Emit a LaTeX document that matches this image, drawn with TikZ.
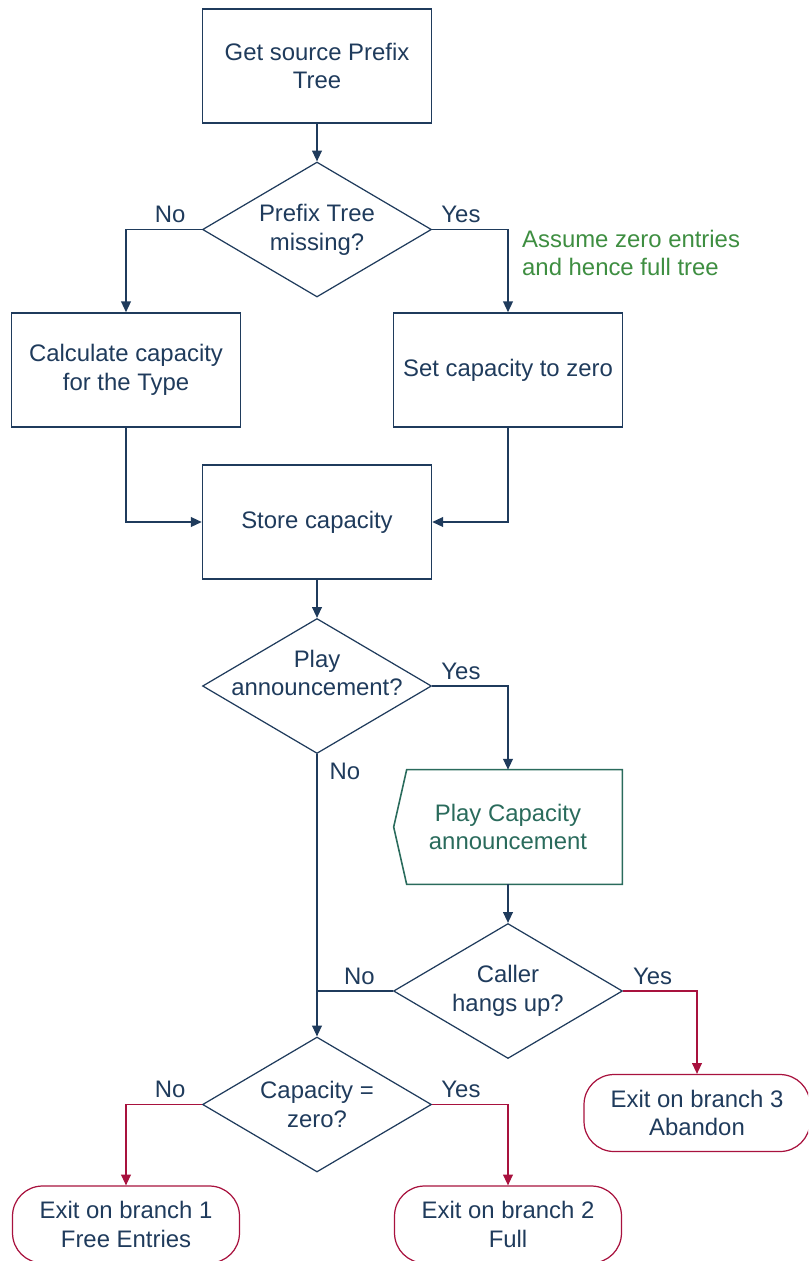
\documentclass[tikz,border=0pt]{standalone}
\usepackage{fontspec}
\setmainfont{Liberation Sans}
\usepackage{xcolor}
\usepackage{tikz}
\usetikzlibrary{shapes.geometric}
\usetikzlibrary{arrows.meta}
\definecolor{blu}{HTML}{1F3B5C}
\definecolor{rosso}{HTML}{A8123E}
\definecolor{verde}{HTML}{3E8E41}
\definecolor{petrolio}{HTML}{2A6B5C}

\begin{document}
\begin{tikzpicture}[x=0.02cm,y=-0.02cm,
        font=\fontsize{13.6}{16.4}\selectfont,
        every node/.style={text=blu,align=center},
        blocco/.style={draw=blu,line width=0.9pt,minimum width=4.58cm,minimum height=2.28cm,inner sep=0pt},
        rombo/.style={draw=blu,shape=diamond,line width=0.7pt,minimum width=4.58cm,minimum height=2.7cm,inner sep=0pt},
        uscita/.style={draw=rosso,rounded corners=0.6cm,line width=0.7pt,minimum width=4.54cm,minimum height=1.54cm},
        freccia/.style={draw=blu,line width=0.8pt,-{Triangle[length=6.2pt,width=5.6pt]}},
        frecciarossa/.style={freccia,draw=rosso}]

                % Area del disegno
            \useasboundingbox (0,0) rectangle (808,1261);
            \clip (0,0) rectangle (808,1261);

                % Blocchi
            \node[blocco] (sorgente) at (317,66) {Get source Prefix\\Tree};
            \node[rombo,label={center:{Prefix Tree\\missing?}}] (rombo1) at (317,229.5) {};
            \node[blocco] (calcola) at (126,370) {Calculate capacity\\for the Type};
            \node[blocco] (azzera) at (508,370) {Set capacity to zero};
            \node[text=verde,anchor=west,align=left] (nota) at (516,253) {Assume zero entries\\and hence full tree}; % Nota
            \node[blocco] (memorizza) at (317,522) {Store capacity};
            \node[rombo,label={[yshift=0.26cm]center:{Play\\announcement?}}] (rombo2) at (317,686) {};

                % Annuncio
            \node[text=petrolio,minimum width=4.56cm,minimum height=2.28cm,inner sep=0pt] (annuncio) at (508,827) {Play Capacity\\announcement};
            \draw[petrolio,line width=0.9pt] ([xshift=0.26cm]annuncio.north west) -- (annuncio.north east)
                    -- (annuncio.south east) -- ([xshift=0.26cm]annuncio.south west) -- (annuncio.west) -- cycle;

            \node[rombo,label={center:{Caller\\hangs up?}}] (rombo3) at (508,991) {};
            \node[rombo,label={center:{Capacity =\\zero?}}] (rombo4) at (317,1104.5) {};

                % Uscite
            \node[uscita] (uscita1) at (126,1224.5) {Exit on branch 1\\Free Entries};
            \node[uscita] (uscita2) at (508,1224.5) {Exit on branch 2\\Full};
            \node[uscita,minimum width=4.52cm] (uscita3) at (697,1113) {Exit on branch 3\\Abandon};

                % Collegamenti
            \draw[freccia] (sorgente) -- (rombo1);
            \draw[freccia] (rombo1.west) -| node[pos=0.21,above] (no1) {No} (calcola.north);
            \draw[freccia] (rombo1.east) -| node[pos=0.19,above] (si1) {Yes} (azzera.north);
            \draw[freccia] (calcola.south) |- (memorizza.west);
            \draw[freccia] (azzera.south) |- (memorizza.east);
            \draw[freccia] (memorizza) -- (rombo2);
            \draw[freccia] (rombo2.east) -| node[pos=0.19,above] (si2) {Yes} (annuncio.north);
            \draw[freccia] (rombo2.south) -- node[pos=0.06,right,xshift=0.12cm] (no2) {No} (rombo4.north);
            \draw[freccia] (annuncio) -- (rombo3);
            \coordinate (incrocio) at (rombo3.west -| rombo2.south);
            \draw[blu,line width=0.8pt] (rombo3.west) -- node[pos=0.44,above] (no3) {No} (incrocio); % Ricongiunge
            \draw[frecciarossa] (rombo3.east) -| node[pos=0.2,above] (si3) {Yes} (uscita3.north);
            \draw[frecciarossa] (rombo4.west) -| node[pos=0.21,above] (no4) {No} (uscita1.north);
            \draw[frecciarossa] (rombo4.east) -| node[pos=0.19,above] (si4) {Yes} (uscita2.north);

\end{tikzpicture}
\end{document}
